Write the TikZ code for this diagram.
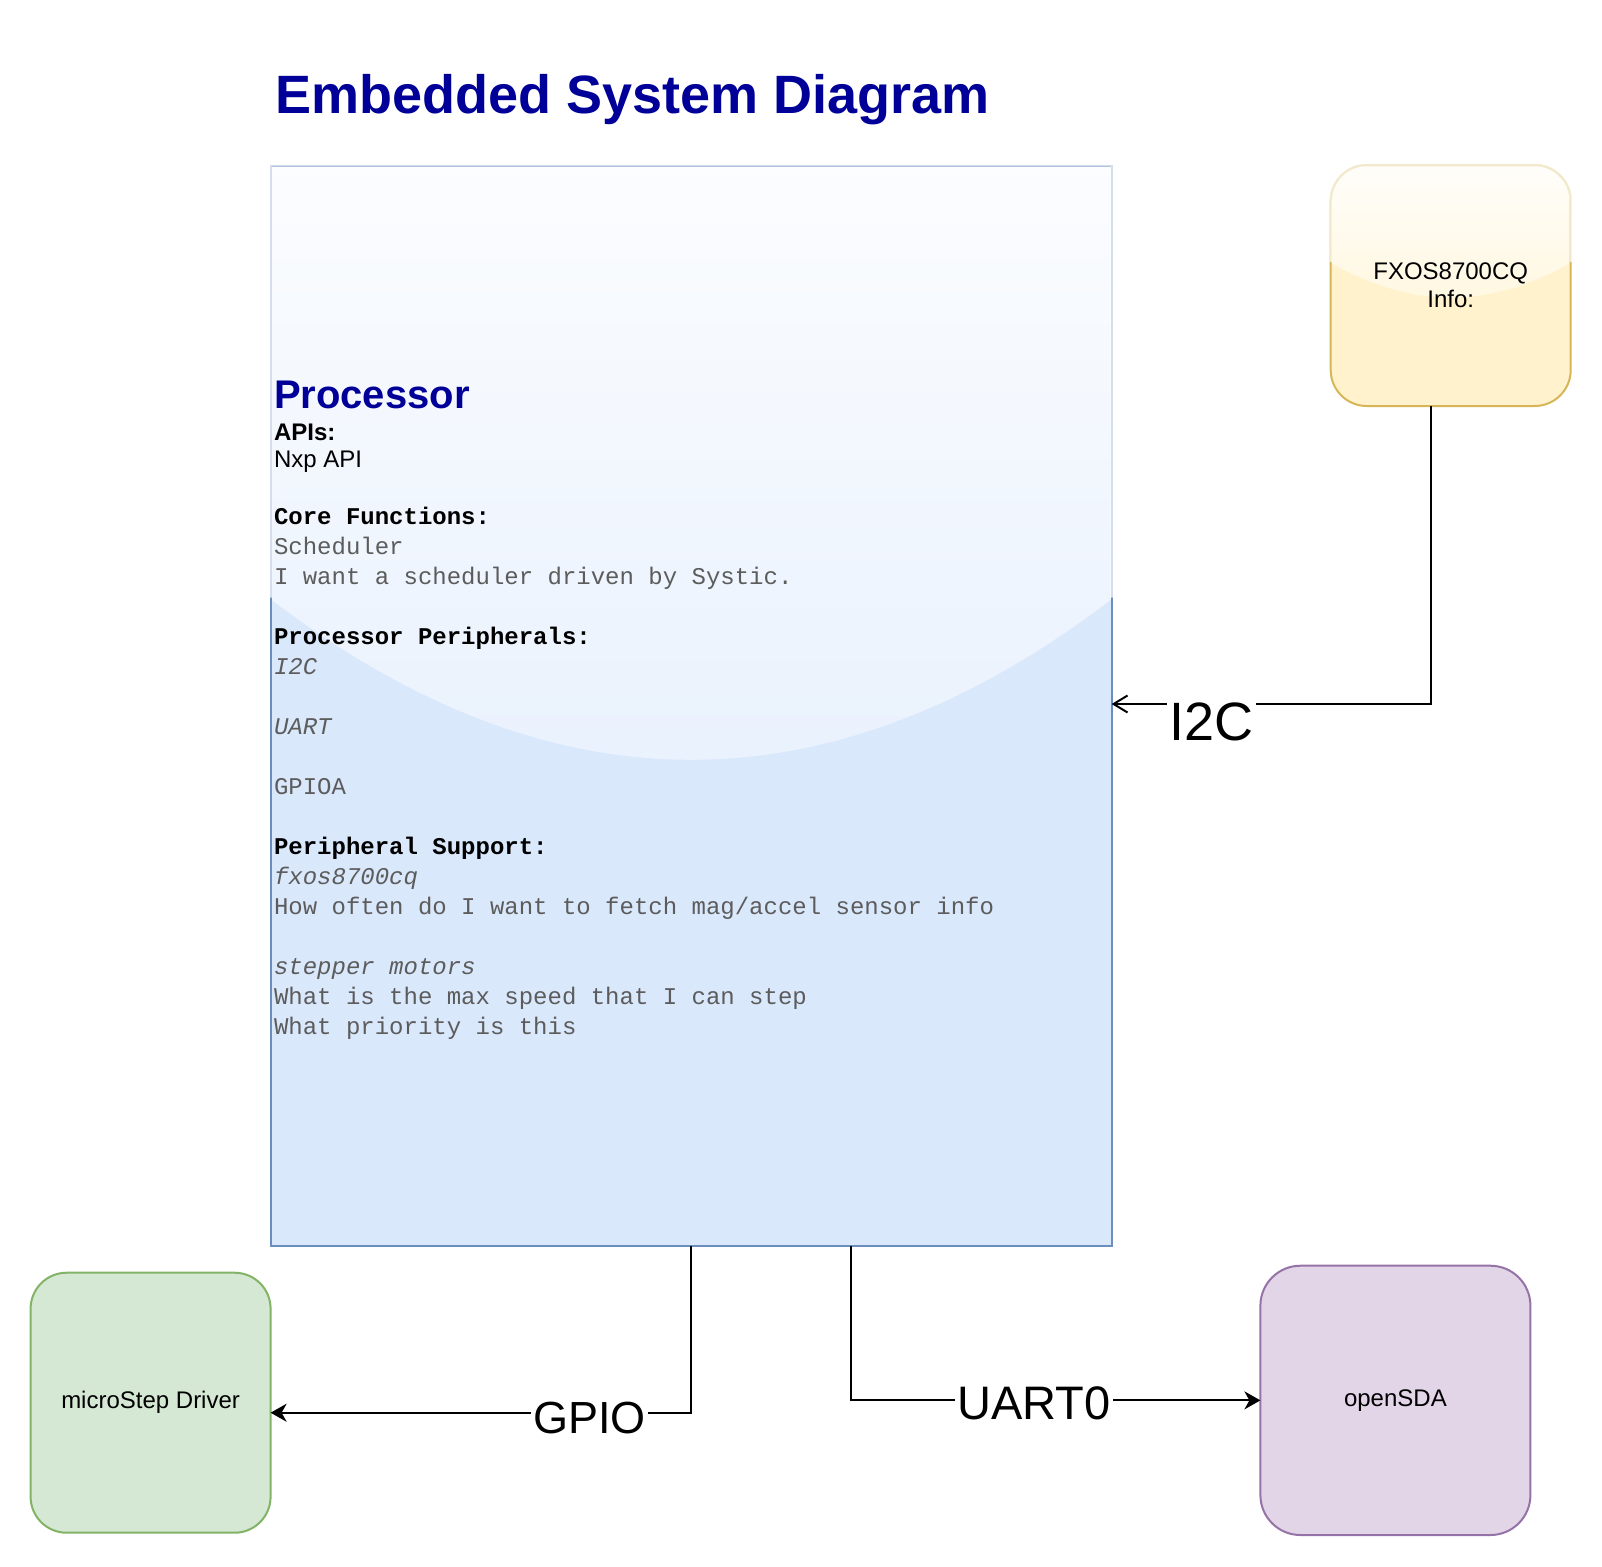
\documentclass[tikz,border=0pt]{standalone}
\usepackage{fontspec}
\setmainfont{Liberation Sans}
\setmonofont{Liberation Mono}
\usetikzlibrary{arrows.meta,calc}
\definecolor{titleblue}{HTML}{000099}
\definecolor{procfill}{HTML}{DAE8FC}
\definecolor{procdraw}{HTML}{6C8EBF}
\definecolor{fxfill}{HTML}{FFF2CC}
\definecolor{fxdraw}{HTML}{D6B656}
\definecolor{msfill}{HTML}{D5E8D4}
\definecolor{msdraw}{HTML}{82B366}
\definecolor{sdafill}{HTML}{E1D5E7}
\definecolor{sdadraw}{HTML}{9673A6}
\definecolor{bodygray}{HTML}{5C5C5C}
\newcommand\myfs[2]{\fontsize{#1}{#2}\selectfont}
\begin{document}
\begin{tikzpicture}[x=1pt,y=-1pt,
  txt/.style={anchor=base west, inner sep=0pt, outer sep=0pt},
  sansb/.style={txt, font={\myfs{24}{27}\bfseries}, text=black},
  sansr/.style={txt, font={\myfs{24}{27}}, text=black},
  monob/.style={txt, font={\myfs{24}{30}\ttfamily\bfseries}, text=black},
  mono/.style={txt, font={\myfs{24}{30}\ttfamily}, text=bodygray},
  monoi/.style={txt, font={\myfs{24}{30}\ttfamily\itshape}, text=bodygray},
  box/.style={inner sep=0pt, outer sep=0pt, line width=2pt, anchor=north west, text=black},
  glass/.style={path picture={
    \shade[sharp corners, top color=white!90!#1, bottom color=white!3!#1]
      let \p1=(path picture bounding box.north west),
          \p2=(path picture bounding box.south east) in
      (\x1-2pt,\y1+2pt) -- (\x2+2pt,\y1+2pt) -- (\x2+2pt,{0.6*\y1+0.4*\y2})
      .. controls ({(2*\x2+\x1)/3},{0.4*\y1+0.6*\y2}) and ({(2*\x1+\x2)/3},{0.4*\y1+0.6*\y2})
      .. (\x1-2pt,{0.6*\y1+0.4*\y2}) -- cycle;
  }},
  conn/.style={draw=black, line width=2pt},
  clarrow/.style={-{Stealth[length=16pt,width=18pt,inset=5pt]}},
  openarrow/.style={-{Straight Barb[length=14pt,width=17pt]}},
  lbl/.style={fill=white, inner xsep=2.5pt, inner ysep=2pt, outer sep=0pt, anchor=base, text=black},
  fade/.style={draw=white, draw opacity=0.7, line width=2.4pt}
]
\useasboundingbox (0,0) rectangle (1602,1566);

% title
\node[txt, font={\myfs{54}{60}\bfseries}, text=titleblue] (title) at (275,113) {Embedded System Diagram};

% boxes
\node[box, minimum width=840.8pt, minimum height=1080.5pt, fill=procfill, draw=procdraw, glass=procfill] (proc) at (270.8,165.5) {};
\draw[fade] ($(proc.north west)!0.4!(proc.south west)$) -- (proc.north west) -- (proc.north east) -- ($(proc.north east)!0.4!(proc.south east)$);

\node[box, minimum width=240pt, minimum height=241pt, rounded corners=36pt, fill=fxfill, draw=fxdraw, glass=fxfill, align=center, font={\myfs{24}{28}}] (fxos) at (1330.7,165) {FXOS8700CQ\\Info:};
\begin{scope}
  \clip ($(fxos.north west)+(-3,-3)$) rectangle ($(fxos.north east)!0.4!(fxos.south east)+(3,0)$);
  \draw[fade, rounded corners=36pt] (fxos.north west) rectangle (fxos.south east);
\end{scope}

\node[box, minimum width=240pt, minimum height=260pt, rounded corners=36pt, fill=msfill, draw=msdraw, font={\myfs{24}{28}}] (micro) at (30.6,1272.7) {microStep Driver};
\node[box, minimum width=270pt, minimum height=269.3pt, rounded corners=40pt, fill=sdafill, draw=sdadraw, font={\myfs{24}{28}}] (sda) at (1260.4,1265.7) {openSDA};

% processor text
\node[txt, font={\myfs{40}{44}\bfseries}, text=titleblue] (ptitle) at (274,408.3) {Processor};
\node[sansb] (t1) at (274,440) {APIs:};
\node[sansr] (t2) at (274,467) {Nxp API};
\node[monob] (t3) at (274,524) {Core Functions:};
\node[mono]  (t4) at (274,554) {Scheduler};
\node[mono]  (t5) at (274,584) {I want a scheduler driven by Systic.};
\node[monob] (t6) at (274,644) {Processor Peripherals:};
\node[monoi] (t7) at (274,674) {I2C};
\node[monoi] (t8) at (274,734) {UART};
\node[mono]  (t9) at (274,794) {GPIOA};
\node[monob] (t10) at (274,854) {Peripheral Support:};
\node[monoi] (t11) at (274,884) {fxos8700cq};
\node[mono]  (t12) at (274,914) {How often do I want to fetch mag/accel sensor info};
\node[monoi] (t13) at (274,974) {stepper motors};
\node[mono]  (t14) at (274,1004) {What is the max speed that I can step};
\node[mono]  (t15) at (274,1034) {What priority is this};

% helper coordinates
\coordinate (i2cx) at (1430.7,0);
\coordinate (i2cy) at (0,704);
\coordinate (gpiox) at (691.3,0);
\coordinate (gpioy) at (0,1412.7);
\coordinate (uartx) at (851,0);

% connectors
\draw[conn, openarrow] (fxos.south -| i2cx) |- (proc.east |- i2cy);
\draw[conn, clarrow] (proc.south -| gpiox) |- (micro.east |- gpioy);
\draw[conn, clarrow] (proc.south -| uartx) |- (sda.west);

% connector labels
\node[lbl, font={\myfs{54}{60}}] (li2c) at (1211.5,740) {I2C};
\node[lbl, font={\myfs{45}{50}}] (lgpio) at (589.3,1433) {GPIO};
\node[lbl, font={\myfs{47}{52}}] (luart) at (1034,1419) {UART0};
\end{tikzpicture}
\end{document}
